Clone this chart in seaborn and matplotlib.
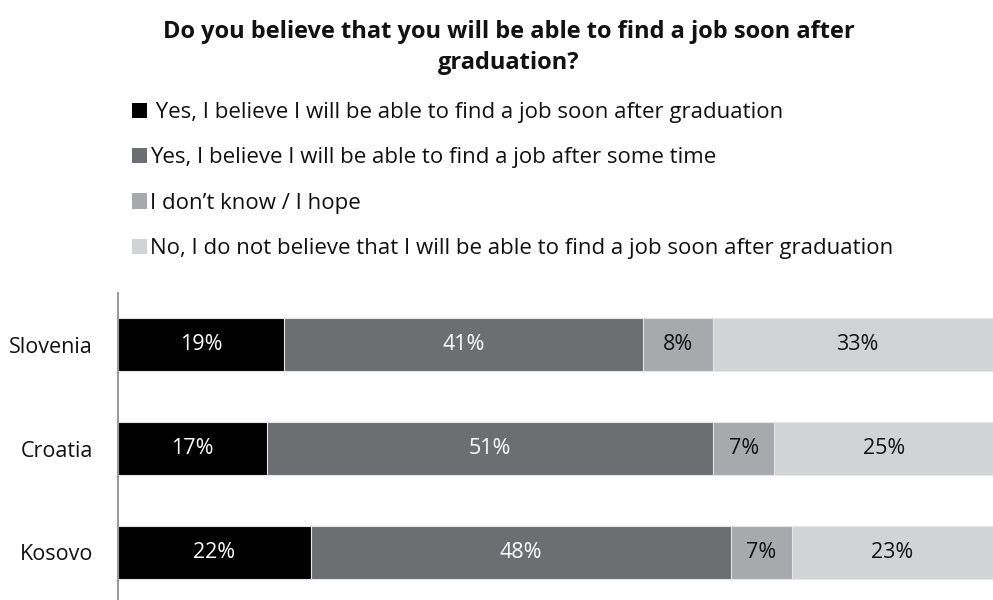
import matplotlib
matplotlib.use("Agg")
import matplotlib.pyplot as plt
import seaborn as sns
import pandas as pd
import numpy as np

sns.set_theme(style="white")
plt.rcParams["font.family"] = ["Open Sans", "DejaVu Sans"]

countries = ["Slovenia", "Croatia", "Kosovo"]
answers = [
    "Yes, I believe I will be able to find a job soon after graduation",
    "Yes, I believe I will be able to find a job after some time",
    "I don\u2019t know / I hope",
    "No, I do not believe that I will be able to find a job soon after graduation",
]
soon = [19, 17, 22]
after_time = [41, 51, 48]
dont_know = [8, 7, 7]
no_job = [33, 25, 23]

colors = ["#000000", "#6d6e71", "#a7a9ac", "#d1d3d4"]
text_colors = ["white", "white", "#111111", "#111111"]

series = [soon, after_time, dont_know, no_job]
df = pd.DataFrame({a: s for a, s in zip(answers, series)}, index=countries)
cum = df.cumsum(axis=1)

fig = plt.figure(figsize=(9.93, 6.0), dpi=100)
ax = fig.add_axes([118 / 993, -4 / 600, 1 - 118 / 993, (604 - 293) / 600])

# stacked bars: draw cumulative totals from the longest down
handles = []
for i in range(len(answers) - 1, -1, -1):
    col = answers[i]
    sns.barplot(x=cum[col].values, y=countries, orient="h", color=colors[i],
                width=0.51, edgecolor="#e6e6e6", linewidth=0.8, ax=ax,
                saturation=1)
    handles.append(plt.Rectangle((0, 0), 1, 1, facecolor=colors[i], edgecolor="none"))
handles = handles[::-1]

# value labels centred in each segment
for i, col in enumerate(answers):
    starts = cum[col].values - df[col].values
    for j, v in enumerate(df[col].values):
        ax.text(starts[j] + v / 2, j, f"{v}%", ha="center", va="center",
                color=text_colors[i], fontsize=15.5)

ax.set_xlim(0, 100)
ax.set_ylim(2.5, -0.5)
ax.set_xticks([])
ax.tick_params(axis="y", length=0, pad=18, labelsize=15.5, labelcolor="#111111")
for s in ["top", "right", "bottom"]:
    ax.spines[s].set_visible(False)
ax.spines["left"].set_color("#888888")
ax.spines["left"].set_linewidth(1.2)
ax.set_xlabel("")
ax.set_ylabel("")

fig.text(0.5126, 1 - 20 / 600,
         "Do you believe that you will be able to find a job soon after\ngraduation?",
         ha="center", va="top", fontsize=17, fontweight="bold", color="#111111",
         linespacing=1.37)

labels = [" " + answers[0]] + answers[1:]
fig.legend(handles, labels, loc="upper left", bbox_to_anchor=(132 / 993, 1 - 102 / 600),
           frameon=False, fontsize=16, handlelength=0.68, handleheight=0.68,
           handletextpad=0.15, labelspacing=1.1, borderaxespad=0, borderpad=0,
           labelcolor="#111111")

fig.savefig("out.png", dpi=100)
